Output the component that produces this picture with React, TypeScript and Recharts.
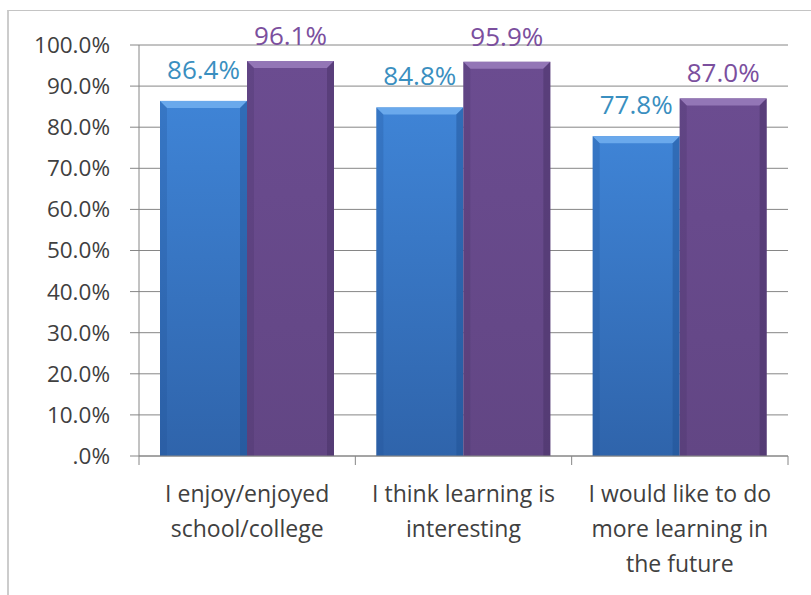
import { BarChart, Bar, XAxis, YAxis, CartesianGrid, LabelList } from "recharts";

const categories = [
  "I enjoy/enjoyed school/college",
  "I think learning is interesting",
  "I would like to do more learning in the future",
];
const categoryLines = [
  ["I enjoy/enjoyed", "school/college"],
  ["I think learning is", "interesting"],
  ["I would like to do", "more learning in", "the future"],
];
const blueValues = [0.864, 0.848, 0.778];
const purpleValues = [0.961, 0.959, 0.87];
const yTicks = [0, 0.1, 0.2, 0.3, 0.4, 0.5, 0.6, 0.7, 0.8, 0.9, 1.0];

const data = categories.map((name, i) => ({
  name,
  blue: blueValues[i],
  purple: purpleValues[i],
}));

const W = 811;
const H = 595;
const margin = { top: 45, right: 23, left: 0, bottom: 0 };
const Y_AXIS_W = 139;
const BAND = (W - margin.left - margin.right - Y_AXIS_W) / categories.length;
const AXIS = "#868686";
const FONT = "'Open Sans', sans-serif";

const fmtPct = (v: number) => (v === 0 ? ".0%" : (v * 100).toFixed(1) + "%");

function CategoryTick(props: any) {
  const { x, y, index } = props;
  const lines = categoryLines[index] || [];
  const left = x - BAND / 2;
  return (
    <g>
      <line x1={left} x2={left} y1={y} y2={y + 9} stroke={AXIS} />
      {index === categories.length - 1 && (
        <line x1={left + BAND} x2={left + BAND} y1={y} y2={y + 9} stroke={AXIS} />
      )}
      <text
        x={x}
        y={y}
        textAnchor="middle"
        fill="#404040"
        fontSize={23}
        fontFamily={FONT}
      >
        {lines.map((l: string, i: number) => (
          <tspan key={i} x={x} y={y + 46 + i * 35}>
            {l}
          </tspan>
        ))}
      </text>
    </g>
  );
}

function makeBevelBar(gradId: string, light: string, dark: string) {
  return (props: any) => {
    const { x, y, width, height } = props;
    if (!height || height <= 0) return <g />;
    const b = 7;
    return (
      <g>
        <rect x={x} y={y} width={width} height={height} fill={`url(#${gradId})`} />
        <polygon
          points={`${x},${y} ${x + width},${y} ${x + width - b},${y + b} ${x + b},${y + b}`}
          fill={light}
        />
        <polygon
          points={`${x},${y} ${x + b},${y + b} ${x + b},${y + height} ${x},${y + height}`}
          fill={dark}
          opacity={0.25}
        />
        <polygon
          points={`${x + width},${y} ${x + width - b},${y + b} ${x + width - b},${y + height} ${x + width},${y + height}`}
          fill={dark}
          opacity={0.45}
        />
      </g>
    );
  };
}

const BlueBar = makeBevelBar("blueGrad", "#6aa9ec", "#1f4f92");
const PurpleBar = makeBevelBar("purpleGrad", "#9376b6", "#452f62");

export default function App() {
  return (
    <div style={{ width: W - 16, height: H - 16 }}>
      <div
        style={{
          position: "fixed",
          left: 0,
          top: 0,
          width: W,
          height: H,
          background: "#fff",
        }}
      >
        <div
          style={{
            position: "absolute",
            left: 7,
            top: 10,
            width: W - 7,
            height: H - 10,
            borderLeft: "2px solid #cccccc",
            borderTop: "1px solid #c4c4c4",
            boxSizing: "border-box",
          }}
        />
        <div style={{ position: "absolute", left: 0, top: 0 }}>
          <BarChart
            width={W}
            height={H}
            data={data}
            margin={margin}
            barGap={0}
            barCategoryGap={21}
          >
            <defs>
              <linearGradient id="blueGrad" x1="0" y1="0" x2="0" y2="1">
                <stop offset="0%" stopColor="#3f84d6" />
                <stop offset="100%" stopColor="#2f64ab" />
              </linearGradient>
              <linearGradient id="purpleGrad" x1="0" y1="0" x2="0" y2="1">
                <stop offset="0%" stopColor="#6b4c90" />
                <stop offset="100%" stopColor="#624684" />
              </linearGradient>
            </defs>
            <CartesianGrid vertical={false} stroke={AXIS} strokeDasharray="" />
            <XAxis
              dataKey="name"
              height={H - 456}
              axisLine={{ stroke: AXIS }}
              tickLine={false}
              tickSize={0}
              tickMargin={0}
              interval={0}
              tick={<CategoryTick />}
            />
            <YAxis
              width={Y_AXIS_W}
              domain={[0, 1]}
              ticks={yTicks}
              tickFormatter={fmtPct}
              axisLine={{ stroke: AXIS }}
              tickLine={{ stroke: AXIS }}
              tickSize={9}
              tickMargin={20}
              tick={{ fill: "#404040", fontSize: 22.5, fontFamily: FONT }}
            />
            <Bar dataKey="blue" fill="#3b78c8" shape={BlueBar} isAnimationActive={false}>
              <LabelList
                dataKey="blue"
                position="top"
                offset={22}
                formatter={(v: any) => fmtPct(Number(v))}
                fill="#3a8fc0"
                fontSize={26}
                fontFamily={FONT}
              />
            </Bar>
            <Bar dataKey="purple" fill="#684a8c" shape={PurpleBar} isAnimationActive={false}>
              <LabelList
                dataKey="purple"
                position="top"
                offset={16}
                formatter={(v: any) => fmtPct(Number(v))}
                fill="#7b4f9e"
                fontSize={26}
                fontFamily={FONT}
              />
            </Bar>
          </BarChart>
        </div>
      </div>
    </div>
  );
}
